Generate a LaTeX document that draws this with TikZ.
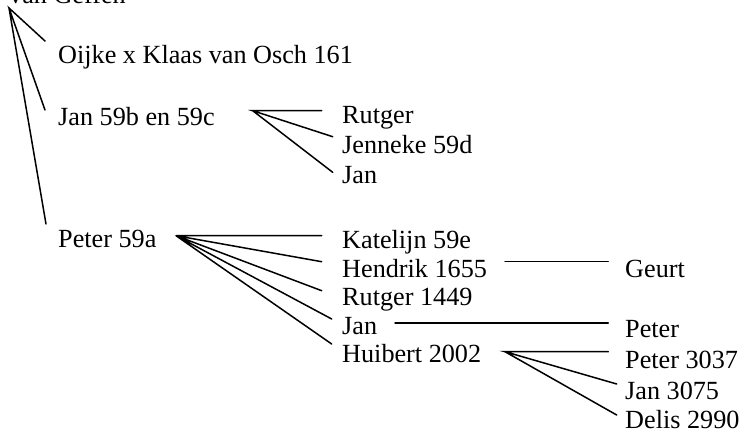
\documentclass[tikz,border=0pt]{standalone}
\usepackage{fontspec}
\setmainfont{Liberation Serif}
\begin{document}
\begin{tikzpicture}[x=1pt,y=-1pt,
  lbl/.style={anchor=base west,inner sep=0pt,font=\fontsize{26.2}{30}\selectfont},
  ln/.style={line width=1.5pt,line cap=round}]
\useasboundingbox (0,0) rectangle (741,434);
% texts
\node[lbl] (root) at (9,3) {van Geffen};
\node[lbl] (oijke) at (58,63) {Oijke x Klaas van Osch 161};
\node[lbl] (jan59) at (58,125) {Jan 59b en 59c};
\node[lbl] (peter59) at (58,247) {Peter 59a};
\node[lbl] (rutger) at (342,123) {Rutger};
\node[lbl] (jenneke) at (342,153) {Jenneke 59d};
\node[lbl] (jana) at (342,183) {Jan};
\node[lbl] (katelijn) at (342,248) {Katelijn 59e};
\node[lbl] (hendrik) at (342,277) {Hendrik 1655};
\node[lbl] (rutgerb) at (342,305.5) {Rutger 1449};
\node[lbl] (janb) at (342,334) {Jan};
\node[lbl] (huibert) at (342,362.5) {Huibert 2002};
\node[lbl] (geurt) at (625,277) {Geurt};
\node[lbl] (peter) at (625,337) {Peter};
\node[lbl] (peterc) at (625,368) {Peter 3037};
\node[lbl] (janc) at (625,399) {Jan 3075};
\node[lbl] (delis) at (625,428.5) {Delis 2990};
% branch points
\coordinate (r0) at (9,8);
\coordinate (r1) at (45,41);
\coordinate (r2) at (45,110);
\coordinate (r3) at (46,224);
\coordinate (j0) at (252.7,110.7);
\coordinate (j1) at (321.7,110.7);
\coordinate (j2) at (332.7,136.7);
\coordinate (j3) at (332.7,172.3);
\coordinate (p0) at (176,235.7);
\coordinate (p1) at (321.7,235.7);
\coordinate (p2) at (321.7,261.7);
\coordinate (p3) at (321.7,290.7);
\coordinate (p4) at (331.7,319);
\coordinate (p5) at (331.7,344);
\coordinate (g0) at (505,261.7);
\coordinate (g1) at (608.3,261.7);
\coordinate (k0) at (395,323);
\coordinate (k1) at (608.3,323);
\coordinate (h0) at (505,351.7);
\coordinate (h1) at (608.3,351.7);
\coordinate (h2) at (616.7,384);
\coordinate (h3) at (616.7,415);
% connectors
\draw[ln] (r1) -- (r0) -- (r2) (r0) -- (r3);
\draw[ln] (j1) -- (j0) -- (j2) (j0) -- (j3);
\draw[ln] (p1) -- (p0) -- (p2) (p0) -- (p3) (p0) -- (p4) (p0) -- (p5);
\draw[ln] (g0) -- (g1);
\draw[ln] (k0) -- (k1);
\draw[ln] (h1) -- (h0) -- (h2) (h0) -- (h3);
\end{tikzpicture}
\end{document}
